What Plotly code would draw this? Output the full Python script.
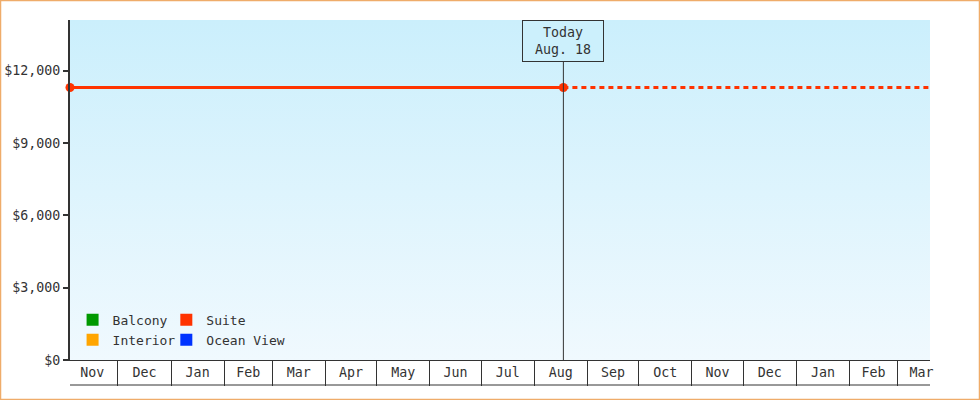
import plotly.graph_objects as go

# --- data ---
range_start = "2016-11-03"
range_end = "2018-03-20"
today = "2017-08-18"

suite_dates = [range_start, today]
suite_prices = [11300, 11300]
forecast_dates = [today, range_end]
forecast_prices = [11300, 11300]

legend_names = ["Balcony", "Interior", "Suite", "Ocean View"]
legend_colors = ["#009900", "#ffa500", "#ff3300", "#0033ff"]
legend_groups = ["legend", "legend", "legend2", "legend2"]

y_max = 14100
font = dict(family="DejaVu Sans Mono", size=13.3, color="#333333")
legend_font = dict(family="DejaVu Sans Mono", size=13, color="#333333")

fig = go.Figure()

# gradient background of the plot area
fig.add_trace(go.Scatter(
    x=[range_start, range_end, range_end, range_start, range_start],
    y=[0, 0, y_max, y_max, 0],
    mode="none", fill="toself",
    fillgradient=dict(type="vertical",
                      colorscale=[[0, "#f0f9fe"], [1, "#cbeffc"]]),
    showlegend=False, hoverinfo="skip",
))

# suite price, past (solid) and ahead (dashed)
fig.add_trace(go.Scatter(
    x=suite_dates, y=suite_prices, mode="lines+markers",
    line=dict(color="#ff3300", width=3),
    marker=dict(size=9, color="#ff3300"),
    cliponaxis=False, showlegend=False,
))
fig.add_trace(go.Scatter(
    x=forecast_dates, y=forecast_prices, mode="lines",
    line=dict(color="#ff3300", width=3, dash="5px,4px"),
    showlegend=False,
))

# legend entries (square swatches)
for name, color, lg in zip(legend_names, legend_colors, legend_groups):
    fig.add_trace(go.Scatter(
        x=[None], y=[None], mode="markers", name=name,
        marker=dict(symbol="square", size=12, color=color),
        legend=lg,
    ))

# "today" marker line and label
fig.add_shape(type="line", xref="x", yref="paper", x0=today, x1=today,
              y0=0, y1=1, line=dict(color="#333333", width=1))
fig.add_annotation(x=today, xref="x", y=1, yref="paper", yanchor="top",
                   text="Today<br>Aug. 18", showarrow=False, align="center",
                   bgcolor="#ccf0fc", bordercolor="#333333", borderwidth=1,
                   borderpad=4, width=72, font=font)

# bottom line of the month strip
fig.add_shape(type="line", xref="paper", yref="paper", x0=0, x1=1,
              y0=-25 / 340, y1=-25 / 340, line=dict(color="#333333", width=1))

# orange frame round the whole picture
fig.add_shape(type="rect", xref="paper", yref="paper",
              x0=-69.5 / 860, x1=1 + 49.5 / 860, y0=-39.5 / 340, y1=1 + 19.5 / 340,
              line=dict(color="#efac6a", width=1.5))

fig.update_layout(
    width=980, height=400,
    margin=dict(l=70, r=50, t=20, b=40, autoexpand=False),
    paper_bgcolor="white", plot_bgcolor="white",
    font=font,
    legend=dict(x=0.003, y=0.015, xanchor="left", yanchor="bottom",
                bgcolor="rgba(0,0,0,0)", font=legend_font, itemwidth=30,
                tracegroupgap=0),
    legend2=dict(x=0.112, y=0.015, xanchor="left", yanchor="bottom",
                 bgcolor="rgba(0,0,0,0)", font=legend_font, itemwidth=30,
                 tracegroupgap=0),
    xaxis=dict(type="date", range=[range_start, range_end],
               tick0="2016-11-01", dtick="M1", tickformat="%b",
               ticklabelmode="period", ticks="outside", ticklen=25,
               tickcolor="#333333", tickwidth=1, ticklabelstandoff=-25,
               showline=True, linecolor="#333333", linewidth=1,
               showgrid=False, zeroline=False, fixedrange=True,
               automargin=False),
    yaxis=dict(range=[0, y_max], dtick=3000, tickprefix="$", tickformat=",d",
               ticks="outside", ticklen=5, tickwidth=2, tickcolor="#333333",
               showline=True, linecolor="#333333", linewidth=2,
               showgrid=False, zeroline=False, fixedrange=True,
               automargin=False),
)

fig.write_html("out.html", config={"displayModeBar": False},
               post_script="document.body.style.margin='0';")
